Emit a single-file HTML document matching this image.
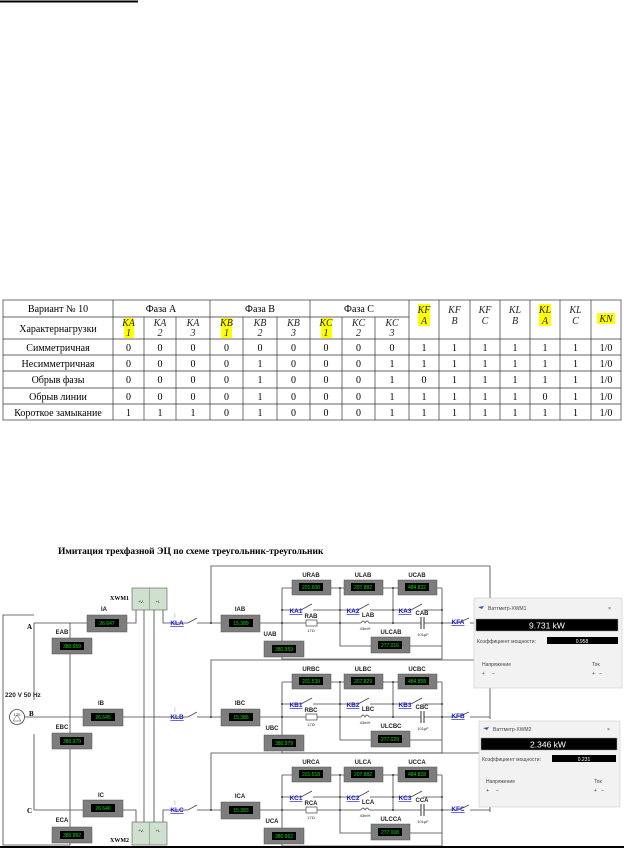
<!DOCTYPE html>
<html><head><meta charset="utf-8"><style>
html,body{margin:0;padding:0;background:#fff;width:624px;height:850px;overflow:hidden}
svg{display:block}
.t{font-family:"Liberation Serif",serif;font-size:10px;fill:#000;text-anchor:middle}
.ti{font-family:"Liberation Serif",serif;font-size:10px;font-style:italic;fill:#222;text-anchor:middle}
.l{font-family:"Liberation Sans",sans-serif;font-size:6px;font-weight:bold;fill:#222;text-anchor:middle}
.s{font-family:"Liberation Sans",sans-serif;font-size:4px;fill:#222;text-anchor:middle}
.g{font-family:"Liberation Sans",sans-serif;font-size:5px;fill:#00e000;text-anchor:middle}
.k{font-family:"Liberation Sans",sans-serif;font-size:6.5px;font-weight:bold;fill:#1a1ad0;text-decoration:underline;text-anchor:middle}
.w{stroke:#444;stroke-width:0.8;fill:none}
.m{fill:#7d7d7d;stroke:#555;stroke-width:.5}
.wm{font-family:"Liberation Sans",sans-serif;font-size:5px;fill:#444}
</style></head><body>
<svg width="624" height="850" viewBox="0 0 624 850" xmlns="http://www.w3.org/2000/svg">
<line x1="0" y1="1.5" x2="138" y2="1.5" stroke="#000" stroke-width="2"/>

<!-- TABLE -->
<g>
<rect x="124" y="318" width="10" height="20" fill="#ff0"/>
<rect x="221" y="318" width="11" height="20" fill="#ff0"/>
<rect x="321" y="318" width="11" height="20" fill="#ff0"/>
<rect x="418" y="304" width="12" height="22" fill="#ff0"/>
<rect x="539" y="304" width="12" height="22" fill="#ff0"/>
<rect x="597" y="313" width="18" height="11" fill="#ff0"/>
<g stroke="#333" stroke-width="0.7" fill="none">
<rect x="3" y="300" width="618" height="120"/>
<line x1="3" y1="339" x2="621" y2="339"/><line x1="3" y1="355" x2="621" y2="355"/><line x1="3" y1="371" x2="621" y2="371"/><line x1="3" y1="388" x2="621" y2="388"/><line x1="3" y1="404" x2="621" y2="404"/>
<line x1="3" y1="317" x2="409" y2="317"/>
<line x1="113" y1="300" x2="113" y2="420"/><line x1="210" y1="300" x2="210" y2="420"/><line x1="310" y1="300" x2="310" y2="420"/><line x1="409" y1="300" x2="409" y2="420"/>
<line x1="144" y1="317" x2="144" y2="420"/><line x1="176" y1="317" x2="176" y2="420"/><line x1="243" y1="317" x2="243" y2="420"/><line x1="277" y1="317" x2="277" y2="420"/><line x1="342" y1="317" x2="342" y2="420"/><line x1="375" y1="317" x2="375" y2="420"/>
<line x1="439" y1="300" x2="439" y2="420"/><line x1="470" y1="300" x2="470" y2="420"/><line x1="500" y1="300" x2="500" y2="420"/><line x1="530" y1="300" x2="530" y2="420"/><line x1="560" y1="300" x2="560" y2="420"/><line x1="591" y1="300" x2="591" y2="420"/>
</g>
<text class="t" x="58" y="312">Вариант № 10</text>
<text class="t" x="161" y="312">Фаза А</text><text class="t" x="260" y="312">Фаза В</text><text class="t" x="359" y="312">Фаза С</text>
<text class="t" x="58" y="332">Характернагрузки</text>
<g class="ti">
<text x="128.5" y="326">KA</text><text x="128.5" y="336">1</text>
<text x="160" y="326">KA</text><text x="160" y="336">2</text>
<text x="193" y="326">KA</text><text x="193" y="336">3</text>
<text x="226.5" y="326">KB</text><text x="226.5" y="336">1</text>
<text x="260" y="326">KB</text><text x="260" y="336">2</text>
<text x="293.5" y="326">KB</text><text x="293.5" y="336">3</text>
<text x="326" y="326">KC</text><text x="326" y="336">1</text>
<text x="358.5" y="326">KC</text><text x="358.5" y="336">2</text>
<text x="392" y="326">KC</text><text x="392" y="336">3</text>
<text x="424" y="313">KF</text><text x="424" y="324">A</text>
<text x="454.5" y="313">KF</text><text x="454.5" y="324">B</text>
<text x="485" y="313">KF</text><text x="485" y="324">C</text>
<text x="545" y="313">KL</text><text x="545" y="324">A</text>
<text x="515" y="313">KL</text><text x="515" y="324">A</text>
<text x="575.5" y="313">KL</text><text x="575.5" y="324">C</text>
<text x="606" y="322">KN</text>
</g>
<rect x="502" y="304" width="26" height="22" fill="#fff"/>
<text class="ti" x="515" y="313">KL</text><text class="ti" x="515" y="324">B</text>
<rect x="532" y="304" width="26" height="22" fill="none"/>
<g class="t">
<text x="58" y="351">Симметричная</text><text x="58" y="367">Несимметричная</text><text x="58" y="383">Обрыв фазы</text><text x="58" y="400">Обрыв линии</text><text x="58" y="416">Короткое замыкание</text>
</g>
<g class="t" id="rows">
<text y="351"><tspan x="128.5">0</tspan><tspan x="160">0</tspan><tspan x="193">0</tspan><tspan x="226.5">0</tspan><tspan x="260">0</tspan><tspan x="293.5">0</tspan><tspan x="326">0</tspan><tspan x="358.5">0</tspan><tspan x="392">0</tspan><tspan x="424">1</tspan><tspan x="454.5">1</tspan><tspan x="485">1</tspan><tspan x="515">1</tspan><tspan x="545">1</tspan><tspan x="575.5">1</tspan><tspan x="606">1/0</tspan></text>
<text y="367"><tspan x="128.5">0</tspan><tspan x="160">0</tspan><tspan x="193">0</tspan><tspan x="226.5">0</tspan><tspan x="260">1</tspan><tspan x="293.5">0</tspan><tspan x="326">0</tspan><tspan x="358.5">0</tspan><tspan x="392">1</tspan><tspan x="424">1</tspan><tspan x="454.5">1</tspan><tspan x="485">1</tspan><tspan x="515">1</tspan><tspan x="545">1</tspan><tspan x="575.5">1</tspan><tspan x="606">1/0</tspan></text>
<text y="383"><tspan x="128.5">0</tspan><tspan x="160">0</tspan><tspan x="193">0</tspan><tspan x="226.5">0</tspan><tspan x="260">1</tspan><tspan x="293.5">0</tspan><tspan x="326">0</tspan><tspan x="358.5">0</tspan><tspan x="392">1</tspan><tspan x="424">0</tspan><tspan x="454.5">1</tspan><tspan x="485">1</tspan><tspan x="515">1</tspan><tspan x="545">1</tspan><tspan x="575.5">1</tspan><tspan x="606">1/0</tspan></text>
<text y="400"><tspan x="128.5">0</tspan><tspan x="160">0</tspan><tspan x="193">0</tspan><tspan x="226.5">0</tspan><tspan x="260">1</tspan><tspan x="293.5">0</tspan><tspan x="326">0</tspan><tspan x="358.5">0</tspan><tspan x="392">1</tspan><tspan x="424">1</tspan><tspan x="454.5">1</tspan><tspan x="485">1</tspan><tspan x="515">1</tspan><tspan x="545">0</tspan><tspan x="575.5">1</tspan><tspan x="606">1/0</tspan></text>
<text y="416"><tspan x="128.5">1</tspan><tspan x="160">1</tspan><tspan x="193">1</tspan><tspan x="226.5">0</tspan><tspan x="260">1</tspan><tspan x="293.5">0</tspan><tspan x="326">0</tspan><tspan x="358.5">0</tspan><tspan x="392">1</tspan><tspan x="424">1</tspan><tspan x="454.5">1</tspan><tspan x="485">1</tspan><tspan x="515">1</tspan><tspan x="545">1</tspan><tspan x="575.5">1</tspan><tspan x="606">1/0</tspan></text>
</g>
</g>

<!-- TITLE -->
<text x="58" y="554" style="font-family:'Liberation Serif',serif;font-size:9.5px;font-weight:bold">Имитация трехфазной ЭЦ по схеме треугольник-треугольник</text>

<!-- LEFT PART -->
<path class="w" d="M34,615 L3,615 L3,845 L70,845 M34,623 L34,700 M34,734 L34,810 M24,717 L83,717 M70,623 L70,845 M34,623 L87,623 M127,623 L136,623 L136,610 M144,610 L144,822 M154,610 L154,822 M163,610 L163,623 L185,623 M34,810 L83,810 M123,810 L136,810 L136,822 M163,822 L163,810 L185,810 M123,717 L185,717"/>
<circle cx="17" cy="717" r="7.5" fill="#fff" stroke="#444" stroke-width=".8"/>
<text class="s" x="17" y="716">120</text><path d="M13,721 L17,715 L21,721 Z" fill="none" stroke="#444" stroke-width=".5"/>
<text x="5" y="697" style="font-family:'Liberation Sans',sans-serif;font-size:6.5px;font-weight:bold;fill:#222">220 V 50 Hz</text>
<text x="27" y="629" style="font-family:'Liberation Serif',serif;font-size:7px;font-weight:bold">A</text>
<text x="29" y="716" style="font-family:'Liberation Serif',serif;font-size:7px;font-weight:bold">B</text>
<text x="27" y="813" style="font-family:'Liberation Serif',serif;font-size:7px;font-weight:bold">C</text>
<!-- meters left -->
<g>
<rect class="m" x="52" y="638" width="40" height="16"/><rect x="60" y="642" width="24" height="8" fill="#000"/><text class="g" x="72" y="648">380.959</text><text class="l" x="62" y="634">EAB</text>
<rect class="m" x="52" y="733" width="40" height="16"/><rect x="60" y="737" width="24" height="8" fill="#000"/><text class="g" x="72" y="743">380.979</text><text class="l" x="62" y="729">EBC</text>
<rect class="m" x="52" y="827" width="40" height="16"/><rect x="60" y="831" width="24" height="8" fill="#000"/><text class="g" x="72" y="837">380.962</text><text class="l" x="62" y="822">ECA</text>
<rect class="m" x="87" y="615" width="40" height="17"/><rect x="95" y="619" width="24" height="8" fill="#000"/><text class="g" x="107" y="625">26.647</text><text class="l" x="104" y="611">IA</text>
<rect class="m" x="83" y="709" width="40" height="17"/><rect x="91" y="713" width="24" height="8" fill="#000"/><text class="g" x="103" y="719">26.645</text><text class="l" x="101" y="705">IB</text>
<rect class="m" x="83" y="800" width="40" height="17"/><rect x="91" y="804" width="24" height="8" fill="#000"/><text class="g" x="103" y="810">26.646</text><text class="l" x="101" y="797">IC</text>
</g>
<!-- XWM -->
<rect x="132" y="588" width="35" height="22" fill="#cfe0cf" stroke="#555" stroke-width=".6"/><line x1="149.5" y1="588" x2="149.5" y2="610" stroke="#777" stroke-width=".5"/>
<text class="s" x="141" y="603">+V-</text><text class="s" x="158" y="603">+I-</text>
<text x="110" y="600" style="font-family:'Liberation Serif',serif;font-size:6px;font-weight:bold">XWM1</text>
<rect x="132" y="822" width="35" height="23" fill="#cfe0cf" stroke="#555" stroke-width=".6"/><line x1="149.5" y1="822" x2="149.5" y2="845" stroke="#777" stroke-width=".5"/>
<text class="s" x="141" y="832">+V-</text><text class="s" x="158" y="832">+I-</text>
<text x="110" y="842" style="font-family:'Liberation Serif',serif;font-size:6px;font-weight:bold">XWM2</text>

<!-- PHASE GROUPS -->
<defs>
<g id="ph">
<path class="w" d="M197,623 L221,623 M211,623 L211,566 L490,566 L490,625 M260,623 L306,623 M317,623 L361,623 M369,623 L421,623 M424,623 L458,623 M470,623 L490,623 M282,588 L442,588 M282,588 L282,659 L442,659 L442,588 M340,588 L340,646 L442,646 M393,588 L393,623 M282,610 L301,610 M313,610 L340,610 M340,610 L358,610 M370,610 L393,610 M393,610 L411,610 M423,610 L442,610"/>
<path class="w" d="M185,623 L188,623 L197,618 M301,610 L312,604 M358,610 L369,604 M411,610 L422,604 M458,623 L469,618" stroke="#333"/>
<rect x="306" y="620" width="11" height="6" fill="#fff" stroke="#444" stroke-width=".7"/>
<path d="M361,623 q2,-4 4,0 q2,-4 4,0" fill="none" stroke="#444" stroke-width=".7"/>
<path d="M421,617 L421,629 M424,617 L424,629" stroke="#333" stroke-width="1"/>
<g fill="#333"><circle cx="211" cy="623" r="1"/><circle cx="282" cy="623" r="1"/><circle cx="282" cy="610" r="1"/><circle cx="340" cy="610" r="1"/><circle cx="393" cy="610" r="1"/><circle cx="442" cy="610" r="1"/><circle cx="340" cy="623" r="1"/><circle cx="393" cy="623" r="1"/><circle cx="442" cy="623" r="1"/><circle cx="340" cy="588" r="1"/><circle cx="393" cy="588" r="1"/></g>
<rect class="m" x="221" y="615" width="39" height="17"/><rect x="229" y="619" width="24" height="8" fill="#000"/>
<rect class="m" x="264" y="641" width="40" height="16"/><rect x="272" y="645" width="24" height="8" fill="#000"/>
<rect class="m" x="292" y="580" width="39" height="15"/><rect x="299" y="583" width="24" height="8" fill="#000"/>
<rect class="m" x="344" y="580" width="39" height="15"/><rect x="351" y="583" width="24" height="8" fill="#000"/>
<rect class="m" x="398" y="580" width="39" height="15"/><rect x="405" y="583" width="24" height="8" fill="#000"/>
<rect class="m" x="371" y="637" width="39" height="16"/><rect x="378" y="641" width="24" height="8" fill="#000"/>
<text class="s" x="311" y="632">17Ω</text><text class="s" x="365" y="630">43mH</text><text class="s" x="423" y="636">101μF</text>
<text class="s" x="175" y="617" fill="#1a1ad0">┊</text>
</g>
</defs>
<use href="#ph"/>
<use href="#ph" transform="translate(0,94)"/>
<use href="#ph" transform="translate(0,187)"/>
<!-- texts phase A -->
<g>
<text class="k" x="177" y="625">KLA</text><text class="k" x="177" y="719">KLB</text><text class="k" x="177" y="812">KLC</text>
<text class="k" x="458" y="624">KFA</text><text class="k" x="458" y="718">KFB</text><text class="k" x="458" y="811">KFC</text>
<text class="k" x="296" y="613">KA1</text><text class="k" x="353" y="613">KA2</text><text class="k" x="405" y="613">KA3</text>
<text class="k" x="296" y="707">KB1</text><text class="k" x="353" y="707">KB2</text><text class="k" x="405" y="707">KB3</text>
<text class="k" x="296" y="800">KC1</text><text class="k" x="353" y="800">KC2</text><text class="k" x="405" y="800">KC3</text>
</g>
<g class="l">
<text x="240" y="611">IAB</text><text x="270" y="636">UAB</text><text x="311" y="577">URAB</text><text x="363" y="577">ULAB</text><text x="417" y="577">UCAB</text><text x="311" y="618">RAB</text><text x="368" y="617">LAB</text><text x="422" y="615">CAB</text><text x="391" y="634">ULCAB</text>
<text x="240" y="705">IBC</text><text x="272" y="730">UBC</text><text x="311" y="671">URBC</text><text x="363" y="671">ULBC</text><text x="417" y="671">UCBC</text><text x="311" y="712">RBC</text><text x="368" y="711">LBC</text><text x="422" y="709">CBC</text><text x="391" y="728">ULCBC</text>
<text x="240" y="798">ICA</text><text x="272" y="823">UCA</text><text x="311" y="764">URCA</text><text x="363" y="764">ULCA</text><text x="417" y="764">UCCA</text><text x="311" y="805">RCA</text><text x="368" y="804">LCA</text><text x="422" y="802">CCA</text><text x="391" y="821">ULCCA</text>
</g>
<g class="g">
<text x="241" y="625">15.389</text><text x="284" y="651">380.959</text><text x="311" y="589">201.600</text><text x="363" y="589">207.882</text><text x="417" y="589">484.832</text><text x="390" y="647">277.016</text>
<text x="241" y="719">15.386</text><text x="284" y="745">380.979</text><text x="311" y="683">201.539</text><text x="363" y="683">207.829</text><text x="417" y="683">484.858</text><text x="390" y="741">277.029</text>
<text x="241" y="812">15.383</text><text x="284" y="838">380.962</text><text x="311" y="776">201.518</text><text x="363" y="776">207.882</text><text x="417" y="776">484.828</text><text x="390" y="834">277.008</text>
</g>

<!-- WATTMETER 1 -->
<rect x="474" y="598" width="148" height="90" fill="#f2f2f2" stroke="#ccc" stroke-width=".6"/>
<text class="wm" x="488" y="610">Ваттметр-XWM1</text><path d="M478,607 l6,-1 l-2,3 z" fill="#3a5a9a"/><text class="wm" x="608" y="610" font-size="7">×</text>
<rect x="476" y="619" width="142" height="12" fill="#000" stroke="#999" stroke-width=".5"/>
<text x="547" y="628.5" style="font-family:'Liberation Sans',sans-serif;font-size:8.5px;fill:#fff;text-anchor:middle">9.731 kW</text>
<text class="wm" x="477" y="643">Коэффициент мощности:</text>
<rect x="547" y="637" width="71" height="7" fill="#000"/><text x="582" y="643" style="font-family:'Liberation Sans',sans-serif;font-size:5px;fill:#fff;text-anchor:middle">0.958</text>
<text class="wm" x="482" y="666">Напряжение</text><text class="wm" x="592" y="666">Ток</text>
<text class="wm" x="482" y="675">+   &#160;  &#160; –</text><text class="wm" x="592" y="675">+  &#160;  –</text>
<!-- WATTMETER 2 -->
<rect x="479" y="721" width="141" height="86" fill="#f2f2f2" stroke="#ccc" stroke-width=".6"/>
<text class="wm" x="493" y="731">Ваттметр-XWM2</text><path d="M483,728 l6,-1 l-2,3 z" fill="#3a5a9a"/><text class="wm" x="607" y="731" font-size="7">×</text>
<rect x="481" y="738" width="136" height="12" fill="#000" stroke="#999" stroke-width=".5"/>
<text x="548" y="747.5" style="font-family:'Liberation Sans',sans-serif;font-size:8.5px;fill:#fff;text-anchor:middle">2.346 kW</text>
<text class="wm" x="482" y="761">Коэффициент мощности:</text>
<rect x="552" y="755" width="64" height="7" fill="#000"/><text x="584" y="761" style="font-family:'Liberation Sans',sans-serif;font-size:5px;fill:#fff;text-anchor:middle">0.231</text>
<text class="wm" x="486" y="783">Напряжение</text><text class="wm" x="594" y="783">Ток</text>
<text class="wm" x="486" y="792">+   &#160;  &#160; –</text><text class="wm" x="594" y="792">+  &#160;  –</text>

<line x1="0" y1="847" x2="624" y2="847" stroke="#000" stroke-width="2"/>
</svg>
</body></html>
